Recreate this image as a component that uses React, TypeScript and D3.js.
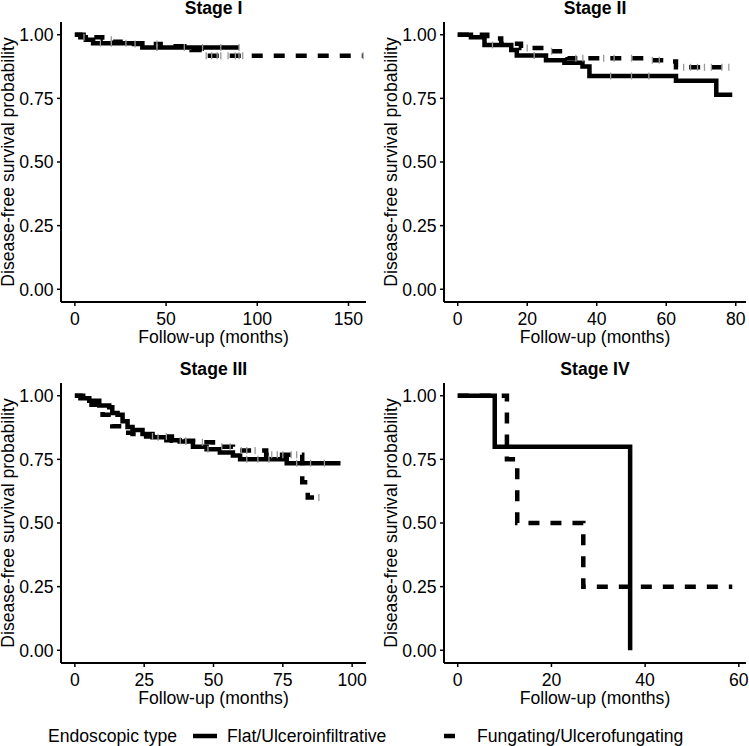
import React from "react";
import * as d3 from "d3";

// ---------- data ----------
const stageTitles = ["Stage I", "Stage II", "Stage III", "Stage IV"];
const xMaxes = [152, 79, 100, 58.6];
const xTickValues = [
  [0, 50, 100, 150],
  [0, 20, 40, 60, 80],
  [0, 25, 50, 75, 100],
  [0, 20, 40, 60],
];
const yTickValues = [0, 0.25, 0.5, 0.75, 1];
const yTickLabels = ["0.00", "0.25", "0.50", "0.75", "1.00"];

// Flat/Ulceroinfiltrative (solid)
const flatTimes = [
  [0, 3, 6, 10, 37, 90],
  [0, 3.8, 7.7, 15.4, 17, 25.4, 30.7, 35.9, 37.9, 62.8, 74.4, 79],
  [0, 2, 5.2, 8.8, 12.4, 13.5, 15.4, 17.2, 19, 20.8, 24.4, 28, 33, 37.8, 42.6, 47.5, 52.3, 57, 59.6, 76.4, 95.8],
  [0, 7.9, 36.8],
];
const flatSurv = [
  [1, 0.99, 0.98, 0.967, 0.95, 0.95],
  [1, 0.99, 0.96, 0.94, 0.918, 0.9, 0.89, 0.875, 0.838, 0.819, 0.764, 0.764],
  [1, 0.99, 0.98, 0.962, 0.955, 0.932, 0.925, 0.9, 0.877, 0.865, 0.85, 0.837, 0.825, 0.82, 0.8, 0.79, 0.777, 0.765, 0.75, 0.735, 0.735],
  [1, 0.8, 0],
];
const flatCensor = [
  [5, 14, 20, 28, 45, 60, 70, 80, 90],
  [10, 22, 44, 50, 55],
  [30, 40, 48, 62, 66, 70, 80, 85, 90],
  [],
];

// Fungating/Ulcerofungating (dashed)
const fungTimes = [
  [0, 9, 15, 21, 30, 47, 60, 64, 69.5, 158],
  [0, 8.5, 12.5, 18.2, 25, 30.7, 31.6, 54.6, 61, 62.8, 79],
  [0, 3, 6, 10, 13.5, 17.2, 20.8, 25.7, 35, 42.6, 49.8, 57, 69, 82, 84, 89],
  [0, 10.5, 12.7, 26.8, 58.6],
];
const fungSurv = [
  [1, 0.99, 0.98, 0.972, 0.964, 0.955, 0.945, 0.94, 0.917, 0.917],
  [1, 0.985, 0.965, 0.948, 0.935, 0.928, 0.908, 0.9, 0.895, 0.872, 0.872],
  [1, 0.985, 0.965, 0.925, 0.88, 0.855, 0.85, 0.84, 0.823, 0.817, 0.8, 0.785, 0.768, 0.66, 0.6, 0.6],
  [1, 0.75, 0.5, 0.25, 0.25],
];
const fungCensor = [
  [20, 33, 45, 72, 75, 78, 80, 84, 88, 90, 92, 158],
  [20, 27, 34, 36, 42, 45, 50, 56, 58, 65, 67, 69, 71, 73, 76, 78],
  [28, 33, 38, 40, 46, 53, 56, 60, 62, 65, 71, 73, 75, 78, 80, 88],
  [],
];

const legendTitle = "Endoscopic type";
const legendLabels = ["Flat/Ulceroinfiltrative", "Fungating/Ulcerofungating"];
const xAxisTitle = "Follow-up (months)";
const yAxisTitle = "Disease-free survival probability";

// ---------- layout ----------
const W = 749;
const H = 746;
const FONT = "'Liberation Sans', Arial, Helvetica, sans-serif";
const FS = 17.6;
const panels = [
  { x0: 61, x1: 366, y0: 22, y1: 302 },
  { x0: 444, x1: 746, y0: 22, y1: 302 },
  { x0: 61, x1: 366, y0: 383, y1: 663 },
  { x0: 444, x1: 746, y0: 383, y1: 663 },
];
const DASH = "11,11";
const LW = 4.5;

function stepAt(times: number[], surv: number[], t: number) {
  let s = surv[0];
  for (let i = 0; i < times.length; i++) if (times[i] <= t) s = surv[i];
  return s;
}

function Panel({ i }: { i: number }) {
  const p = panels[i];
  const m = xMaxes[i];
  const x = d3.scaleLinear().domain([-0.05 * m, 1.05 * m]).range([p.x0, p.x1]);
  const y = d3.scaleLinear().domain([-0.05, 1.05]).range([p.y1, p.y0]);
  const line = d3
    .line<[number, number]>()
    .x((d) => x(d[0]))
    .y((d) => y(d[1]))
    .curve(d3.curveStepAfter);
  const flatPts = flatTimes[i].map((t, k) => [t, flatSurv[i][k]] as [number, number]);
  const fungPts = fungTimes[i].map((t, k) => [t, fungSurv[i][k]] as [number, number]);
  const cx = (p.x0 + p.x1) / 2;
  const cy = (p.y0 + p.y1) / 2;
  return (
    <g>
      <text x={cx} y={p.y0 - 8} textAnchor="middle" fontWeight="bold" fontSize={FS} fontFamily={FONT}>
        {stageTitles[i]}
      </text>
      {/* curves */}
      <path d={line(flatPts) || ""} fill="none" stroke="#000" strokeWidth={LW} />
      <path d={line(fungPts) || ""} fill="none" stroke="#000" strokeWidth={LW} strokeDasharray={DASH} />
      {flatCensor[i].map((t, k) => {
        const yy = y(stepAt(flatTimes[i], flatSurv[i], t));
        return <line key={"fc" + k} x1={x(t)} x2={x(t)} y1={yy - 3.5} y2={yy + 3.5} stroke="#999" strokeWidth={1.3} />;
      })}
      {fungCensor[i].map((t, k) => {
        const yy = y(stepAt(fungTimes[i], fungSurv[i], t));
        return <line key={"gc" + k} x1={x(t)} x2={x(t)} y1={yy - 3.5} y2={yy + 3.5} stroke="#999" strokeWidth={1.3} />;
      })}
      {/* axes */}
      <line x1={p.x0} x2={p.x0} y1={p.y0} y2={p.y1} stroke="#000" strokeWidth={2} />
      <line x1={p.x0} x2={p.x1} y1={p.y1} y2={p.y1} stroke="#000" strokeWidth={2} />
      {yTickValues.map((v, k) => (
        <g key={"yt" + k}>
          <line x1={p.x0 - 4} x2={p.x0} y1={y(v)} y2={y(v)} stroke="#000" strokeWidth={1.5} />
          <text x={p.x0 - 7.5} y={y(v)} dy="0.36em" textAnchor="end" fontSize={FS} fontFamily={FONT}>
            {yTickLabels[k]}
          </text>
        </g>
      ))}
      {xTickValues[i].map((v, k) => (
        <g key={"xt" + k}>
          <line x1={x(v)} x2={x(v)} y1={p.y1} y2={p.y1 + 4} stroke="#000" strokeWidth={1.5} />
          <text x={x(v)} y={p.y1 + 23} textAnchor="middle" fontSize={FS} fontFamily={FONT}>
            {String(v)}
          </text>
        </g>
      ))}
      <text x={cx} y={p.y1 + 41} textAnchor="middle" fontSize={FS} fontFamily={FONT}>
        {xAxisTitle}
      </text>
      <text
        transform={`translate(${p.x0 - 47},${cy}) rotate(-90)`}
        textAnchor="middle"
        fontSize={FS}
        fontFamily={FONT}
      >
        {yAxisTitle}
      </text>
    </g>
  );
}

export default function App() {
  const ly = 736;
  return (
    <svg
      width={W}
      height={H}
      style={{ position: "absolute", left: 0, top: 0, background: "#fff" }}
    >
      <rect width={W} height={H} fill="#fff" />
      {[0, 1, 2, 3].map((i) => (
        <Panel key={i} i={i} />
      ))}
      <text x={48} y={ly + 5.5} fontSize={FS} fontFamily={FONT}>
        {legendTitle}
      </text>
      <line x1={193} x2={217} y1={ly} y2={ly} stroke="#000" strokeWidth={LW} />
      <text x={227} y={ly + 5.5} fontSize={FS} fontFamily={FONT}>
        {legendLabels[0]}
      </text>
      <line x1={444} x2={468} y1={ly} y2={ly} stroke="#000" strokeWidth={LW} strokeDasharray="11,13" />
      <text x={477} y={ly + 5.5} fontSize={FS} fontFamily={FONT}>
        {legendLabels[1]}
      </text>
    </svg>
  );
}
